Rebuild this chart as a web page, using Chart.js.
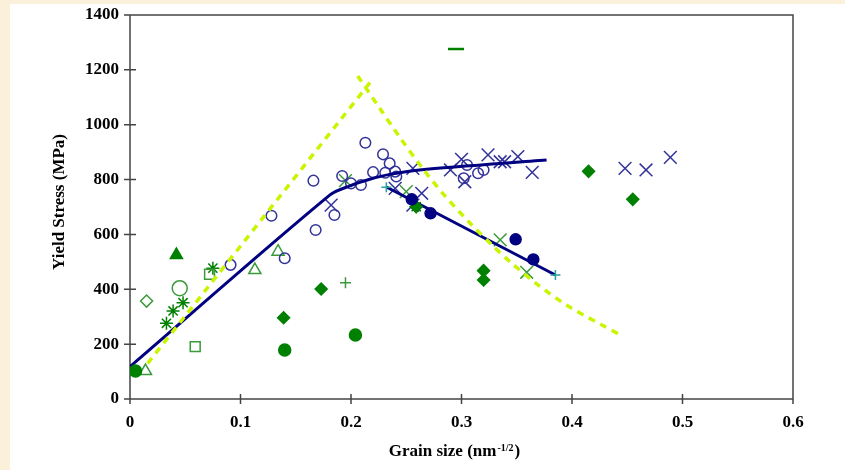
<!DOCTYPE html>
<html>
<head>
<meta charset="utf-8">
<script src="https://cdn.jsdelivr.net/npm/chart.js@4.4.1/dist/chart.umd.min.js"></script>
<style>
  html, body { margin: 0; padding: 0; background: #fbf1db; }
  #wrap { position: relative; width: 845px; height: 470px; }
  #paper { position: absolute; left: 10px; top: 4px; right: 0; bottom: 0; background: #fff; }
  #c { position: absolute; left: 0; top: 0; }
</style>
</head>
<body>
<div id="wrap"><div id="paper"></div><canvas id="c" width="845" height="470"></canvas></div>
<script>
// Axis ticks
const xTickLabels = ['0', '0.1', '0.2', '0.3', '0.4', '0.5', '0.6'];
const yTickLabels = ['0', '200', '400', '600', '800', '1000', '1200', '1400'];

// Fit lines (grain size, yield stress)
const fitRising = [[0, 118], [0.181, 744], [0.199, 777], [0.217, 801], [0.235, 819], [0.262, 835], [0.377, 871]];
const fitFalling = [[0.232, 773], [0.385, 452]];
const modelRising = [[0.016, 130], [0.219, 1163]];
const modelFalling = [[0.206, 1178], [0.226, 1060], [0.244, 955], [0.264, 845], [0.283, 750], [0.308, 640],
  [0.328, 560], [0.344, 500], [0.368, 420], [0.396, 340], [0.427, 270], [0.443, 235]];

// Measured points
const navyOpenCircles = [[0.091, 489], [0.128, 668], [0.14, 513], [0.166, 796], [0.168, 616], [0.185, 671],
  [0.192, 813], [0.2, 786], [0.209, 780], [0.213, 934], [0.22, 827], [0.229, 892], [0.235, 859],
  [0.231, 825], [0.24, 829], [0.241, 811], [0.305, 853], [0.302, 805], [0.315, 823], [0.32, 835]];
const navyCrosses = [[0.182, 707], [0.24, 768], [0.256, 841], [0.264, 750], [0.256, 707], [0.29, 835],
  [0.3, 874], [0.303, 792], [0.324, 890], [0.335, 865], [0.339, 865], [0.351, 884], [0.364, 826],
  [0.448, 841], [0.467, 835], [0.489, 881]];
const navyDots = [[0.255, 728], [0.272, 677], [0.349, 582], [0.365, 509]];
const greenDiamonds = [[0.139, 296], [0.173, 401], [0.259, 701], [0.32, 468], [0.32, 434], [0.415, 830], [0.455, 728]];
const greenDots = [[0.005, 102], [0.14, 179], [0.204, 233]];
const greenTriangles = [[0.042, 525]];
const greenOpenTriangles = [[0.014, 102], [0.113, 470], [0.134, 537]];
const greenOpenSquares = [[0.059, 191], [0.072, 455]];
const greenOpenDiamonds = [[0.015, 357]];
const greenOpenCircles = [[0.045, 404]];
const greenStars = [[0.033, 276], [0.039, 321], [0.048, 351], [0.075, 477], [0.259, 701]];
const greenCrosses = [[0.195, 796], [0.25, 756], [0.335, 580], [0.359, 462]];
const greenPluses = [[0.195, 424]];
const greenDashes = [[0.295, 1276]];
const tealPluses = [[0.232, 772], [0.385, 452]];

const NAVY = '#000080', BLUE = '#33339a', GREEN = '#008000', LGREEN = '#3a9a3a', TEAL = '#2a9d9d', LIME = '#c8f500';
const FONT = 'Liberation Serif';

const pts = arr => arr.map(([x, y]) => ({ x, y }));

function marker(arr, style, color, radius, filled, order) {
    return {
        data: pts(arr),
        pointStyle: style,
        pointRadius: radius,
        pointBorderColor: color,
        pointBackgroundColor: filled ? color : 'rgba(0,0,0,0)',
        pointBorderWidth: 1.5,
        showLine: false,
        order: order
    };
}

function line(arr, color, width, dash) {
    return {
        data: pts(arr),
        showLine: true,
        borderColor: color,
        borderWidth: width,
        borderDash: dash,
        pointRadius: 0,
        tension: 0.3,
        order: 2
    };
}

// Frame, crossing tick marks and axis titles
const framePlugin = {
    id: 'frame',
    beforeDatasetsDraw(chart) {
        const { ctx, chartArea: a, scales: { x, y } } = chart;
        ctx.save();
        ctx.strokeStyle = '#444';
        ctx.lineWidth = 1.5;
        ctx.beginPath();
        ctx.moveTo(a.left, a.top);
        ctx.lineTo(a.right, a.top);
        ctx.lineTo(a.right, a.bottom);
        ctx.lineTo(a.left, a.bottom);
        ctx.lineTo(a.left, a.top);
        x.ticks.forEach(t => {
            const px = x.getPixelForValue(t.value);
            ctx.moveTo(px, a.bottom - 5);
            ctx.lineTo(px, a.bottom + 5);
        });
        y.ticks.forEach(t => {
            const py = y.getPixelForValue(t.value);
            ctx.moveTo(a.left - 6, py);
            ctx.lineTo(a.left + 6, py);
        });
        ctx.stroke();
        ctx.restore();
    },
    afterDraw(chart) {
        const { ctx, chartArea: a } = chart;
        ctx.save();
        ctx.fillStyle = '#000';
        ctx.textBaseline = 'alphabetic';
        // x title with superscript
        const main = 'bold 17px ' + FONT, sup = 'bold 10px ' + FONT;
        ctx.font = main;
        const w1 = ctx.measureText('Grain size (nm').width;
        const w3 = ctx.measureText(')').width;
        ctx.font = sup;
        const w2 = ctx.measureText('-1/2').width;
        let tx = (a.left + a.right) / 2 - 8 - (w1 + w2 + w3) / 2;
        const ty = a.bottom + 57;
        ctx.font = main;
        ctx.fillText('Grain size (nm', tx, ty);
        ctx.font = sup;
        ctx.fillText('-1/2', tx + w1 + 1, ty - 5);
        ctx.font = main;
        ctx.fillText(')', tx + w1 + w2 + 2, ty);
        // y title
        ctx.translate(a.left - 70, (a.top + a.bottom) / 2 - 5);
        ctx.rotate(-Math.PI / 2);
        ctx.textAlign = 'center';
        ctx.textBaseline = 'middle';
        ctx.fillText('Yield Stress (MPa)', 0, 0);
        ctx.restore();
    }
};

new Chart(document.getElementById('c'), {
    type: 'scatter',
    data: {
        datasets: [
            marker(navyOpenCircles, 'circle', BLUE, 5.3, false, 3),
            marker(navyCrosses, 'crossRot', BLUE, 9, false, 3),
            marker(greenOpenTriangles, 'triangle', LGREEN, 7, false, 3),
            marker(greenOpenSquares, 'rect', LGREEN, 7, false, 3),
            marker(greenOpenDiamonds, 'rectRot', LGREEN, 6, false, 3),
            marker(greenOpenCircles, 'circle', LGREEN, 7.5, false, 3),
            marker(greenStars, 'star', GREEN, 6.5, false, 3),
            marker(greenCrosses, 'crossRot', LGREEN, 9, false, 3),
            marker(greenPluses, 'cross', LGREEN, 5.5, false, 3),
            line(modelRising, LIME, 3.5, [7, 6]),
            line(modelFalling, LIME, 3.5, [7, 6]),
            line(fitRising, NAVY, 3, []),
            line(fitFalling, NAVY, 3, []),
            marker(tealPluses, 'cross', TEAL, 5, false, 1),
            marker(navyDots, 'circle', NAVY, 5.5, true, 1),
            marker(greenDiamonds, 'rectRot', GREEN, 6, true, 1),
            marker(greenDots, 'circle', GREEN, 6, true, 1),
            marker(greenTriangles, 'triangle', GREEN, 7, true, 1),
            { ...marker(greenDashes, 'line', GREEN, 8, false, 1), pointBorderWidth: 2.5 }
        ]
    },
    options: {
        responsive: false,
        animation: false,
        layout: { padding: { top: 15, right: 52, left: 0, bottom: 0 } },
        plugins: { legend: { display: false }, tooltip: { enabled: false } },
        scales: {
            x: {
                type: 'linear', min: 0, max: 0.6,
                afterFit: s => { s.height = 71; s.paddingLeft = 0; s.paddingRight = 0; },
                grid: { display: false, drawTicks: false },
                border: { display: false },
                ticks: {
                    stepSize: 0.1, padding: 13, color: '#000',
                    font: { family: FONT, size: 17, weight: 'bold' },
                    callback: (v, i) => xTickLabels[i]
                }
            },
            y: {
                type: 'linear', min: 0, max: 1400,
                afterFit: s => { s.width = 130; s.paddingTop = 0; s.paddingBottom = 0; },
                grid: { display: false, drawTicks: false },
                border: { display: false },
                ticks: {
                    stepSize: 200, padding: 11, color: '#000',
                    font: { family: FONT, size: 17, weight: 'bold' },
                    callback: (v, i) => yTickLabels[i]
                }
            }
        }
    },
    plugins: [framePlugin]
});
</script>
</body>
</html>
